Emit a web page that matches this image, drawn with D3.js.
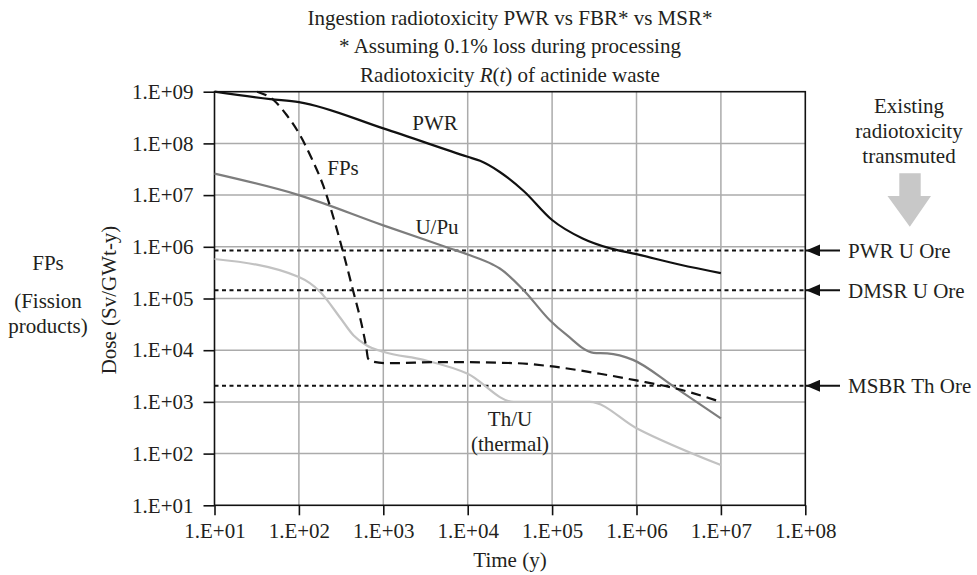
<!DOCTYPE html>
<html><head><meta charset="utf-8">
<script src="https://cdn.jsdelivr.net/npm/d3@7"></script>
<style>
body{margin:0;background:#fff;}
svg text{font-family:"Liberation Serif","Times New Roman",serif;fill:#231f20;}
</style></head>
<body><svg id="c" width="977" height="575"></svg>
<script>
// ---- data ----
const xTicks = [1e1,1e2,1e3,1e4,1e5,1e6,1e7,1e8];
const yTicks = [1e1,1e2,1e3,1e4,1e5,1e6,1e7,1e8,1e9];
const tickLabel = d => "1.E+" + String(Math.round(Math.log10(d))).padStart(2,"0");

const pwrT   = [10, 46, 100, 1000, 1e4, 1.4e4, 2.4e4, 4.6e4, 1e5, 2.3e5, 4.9e5, 1e6, 3.3e6, 1e7];
const pwrR   = [1e9, 7.2e8, 6.3e8, 1.95e8, 5.5e7, 4.6e7, 2.8e7, 1.2e7, 3.3e6, 1.45e6, 9.3e5, 7.2e5, 4.5e5, 3.1e5];

const fpT    = [32, 50, 72, 103, 141, 195, 281, 336, 442, 555, 630, 660, 760, 1100, 5100, 3.8e4, 9.4e4, 3.7e5, 1e6, 3.0e6, 1e7];
const fpR    = [1e9, 6.9e8, 3.5e8, 1.45e8, 5.2e7, 1.5e7, 2.2e6, 7.6e5, 1.35e5, 3.1e4, 1.1e4, 6.9e3, 6.0e3, 5.6e3, 5.9e3, 5.6e3, 4.9e3, 3.5e3, 2.6e3, 1.8e3, 1e3];

const upuT   = [10, 100, 1000, 6200, 1e4, 2.0e4, 2.4e4, 4.6e4, 9.4e4, 1.5e5, 3.1e5, 4.5e5, 9.1e5, 2.8e6, 1e7];
const upuR   = [2.6e7, 1.0e7, 2.6e6, 9.3e5, 7.1e5, 4.5e5, 3.8e5, 1.45e5, 3.8e4, 1.95e4, 8.9e3, 8.7e3, 6.5e3, 1.95e3, 4.8e2];

const thuT   = [10, 100, 178, 310, 442, 630, 1000, 3000, 1e4, 3.5e4, 2.8e5, 1e6, 1e7];
const thuR   = [5.8e5, 2.6e5, 1.35e5, 4.2e4, 1.95e4, 1.25e4, 9.3e3, 6.5e3, 3.5e3, 1e3, 1e3, 3.1e2, 60];

const oreNames  = ["PWR U Ore", "DMSR U Ore", "MSBR Th Ore"];
const oreValues = [8.5e5, 1.45e5, 2.05e3];

// ---- layout ----
const FS = 21;
const svg = d3.select("#c");
const L=214.5, R=805.3, T=91.7, B=505.3;
const x = d3.scaleLog().domain([1e1,1e8]).range([L,R]);
const y = d3.scaleLog().domain([1e1,1e9]).range([B,T]);

// grid
svg.append("g").selectAll("line").data(xTicks.slice(1,-1)).join("line")
  .attr("x1",d=>x(d)).attr("x2",d=>x(d)).attr("y1",T).attr("y2",B)
  .attr("stroke","#ababab").attr("stroke-width",1.5);
svg.append("g").selectAll("line").data(yTicks.slice(1,-1)).join("line")
  .attr("x1",L).attr("x2",R).attr("y1",d=>y(d)).attr("y2",d=>y(d))
  .attr("stroke","#ababab").attr("stroke-width",1.5);

// ore reference lines
svg.append("g").selectAll("line").data(oreValues).join("line")
  .attr("x1",L).attr("x2",R).attr("y1",d=>y(d)).attr("y2",d=>y(d))
  .attr("stroke","#111").attr("stroke-width",2).attr("stroke-dasharray","4,3.5");

// frame
svg.append("rect").attr("x",L).attr("y",T).attr("width",R-L).attr("height",B-T)
  .attr("fill","none").attr("stroke","#111").attr("stroke-width",1.6);

// axes
const xa = svg.append("g").attr("transform",`translate(0,${B})`)
  .call(d3.axisBottom(x).tickValues(xTicks).tickFormat(tickLabel).tickSize(10).tickPadding(8));
const ya = svg.append("g").attr("transform",`translate(${L},0)`)
  .call(d3.axisLeft(y).tickValues(yTicks).tickFormat(tickLabel).tickSize(11).tickPadding(10));
[xa,ya].forEach(a=>{
  a.select(".domain").remove();
  a.selectAll(".tick line").attr("stroke","#111").attr("stroke-width",1.6);
  a.selectAll(".tick text").attr("font-size",FS).attr("fill","#231f20")
   .style("font-family",'"Liberation Serif",serif');
});

// series
const line = d3.line().x(d=>x(d[0])).y(d=>y(d[1])).curve(d3.curveMonotoneX);
const zip = (a,b)=>a.map((v,i)=>[v,b[i]]);
svg.append("path").datum(zip(thuT,thuR)).attr("d",line).attr("fill","none")
  .attr("stroke","#c2c2c2").attr("stroke-width",2.2);
svg.append("path").datum(zip(upuT,upuR)).attr("d",line).attr("fill","none")
  .attr("stroke","#7d7d7d").attr("stroke-width",2.2);
svg.append("path").datum(zip(fpT,fpR)).attr("d",line).attr("fill","none")
  .attr("stroke","#111").attr("stroke-width",2.2).attr("stroke-dasharray","10,6");
svg.append("path").datum(zip(pwrT,pwrR)).attr("d",line).attr("fill","none")
  .attr("stroke","#111").attr("stroke-width",2.2);

// series labels
const lab = (t,xx,yy)=>svg.append("text").attr("x",xx).attr("y",yy).attr("text-anchor","middle")
  .attr("font-size",FS).text(t);
lab("PWR",435,130);
lab("FPs",343,175);
lab("U/Pu",437,233.5);
lab("Th/U",510,425.5);
lab("(thermal)",510,450.5);

// titles
const title = svg.append("g");
title.append("text").attr("x",510).attr("y",25).attr("text-anchor","middle").attr("font-size",FS)
  .text("Ingestion radiotoxicity PWR vs FBR* vs MSR*");
title.append("text").attr("x",510).attr("y",53.3).attr("text-anchor","middle").attr("font-size",FS)
  .text("* Assuming 0.1% loss during processing");
const t3 = title.append("text").attr("x",510).attr("y",81.7).attr("text-anchor","middle").attr("font-size",FS);
t3.append("tspan").text("Radiotoxicity ");
t3.append("tspan").attr("font-style","italic").text("R");
t3.append("tspan").text("(");
t3.append("tspan").attr("font-style","italic").text("t");
t3.append("tspan").text(") of actinide waste");

// axis titles
svg.append("text").attr("x",510).attr("y",567).attr("text-anchor","middle").attr("font-size",FS).text("Time (y)");
svg.append("text").attr("transform","translate(116,300) rotate(-90)").attr("text-anchor","middle")
  .attr("font-size",FS).text("Dose (Sv/GWt-y)");

// left side labels
svg.append("text").attr("x",48).attr("y",270).attr("text-anchor","middle").attr("font-size",FS).text("FPs");
svg.append("text").attr("x",48).attr("y",308).attr("text-anchor","middle").attr("font-size",FS).text("(Fission");
svg.append("text").attr("x",48).attr("y",333).attr("text-anchor","middle").attr("font-size",FS).text("products)");

// ore arrows and labels
svg.append("defs").append("marker").attr("id","ah").attr("viewBox","0 0 14 12")
  .attr("refX",14).attr("refY",6).attr("markerWidth",14).attr("markerHeight",12)
  .attr("markerUnits","userSpaceOnUse").attr("orient","auto")
  .append("path").attr("d","M0,0 L14,6 L0,12 Z").attr("fill","#111");
const og = svg.append("g").selectAll("g").data(oreValues).join("g");
og.append("line").attr("x1",840).attr("x2",806).attr("y1",d=>y(d)).attr("y2",d=>y(d))
  .attr("stroke","#111").attr("stroke-width",2).attr("marker-end","url(#ah)");
og.append("text").attr("x",848).attr("y",d=>y(d)).attr("dy","0.35em").attr("font-size",FS)
  .text((d,i)=>oreNames[i]);

// "Existing radiotoxicity transmuted"
["Existing","radiotoxicity","transmuted"].forEach((t,i)=>
  svg.append("text").attr("x",909).attr("y",113.3+25*i).attr("text-anchor","middle").attr("font-size",FS).text(t));
svg.append("path").attr("d","M899.3,173.3 L920.7,173.3 L920.7,196 L931,196 L909.8,226.7 L887.5,196 L899.3,196 Z")
  .attr("fill","#c8c8c8");
</script></body></html>
